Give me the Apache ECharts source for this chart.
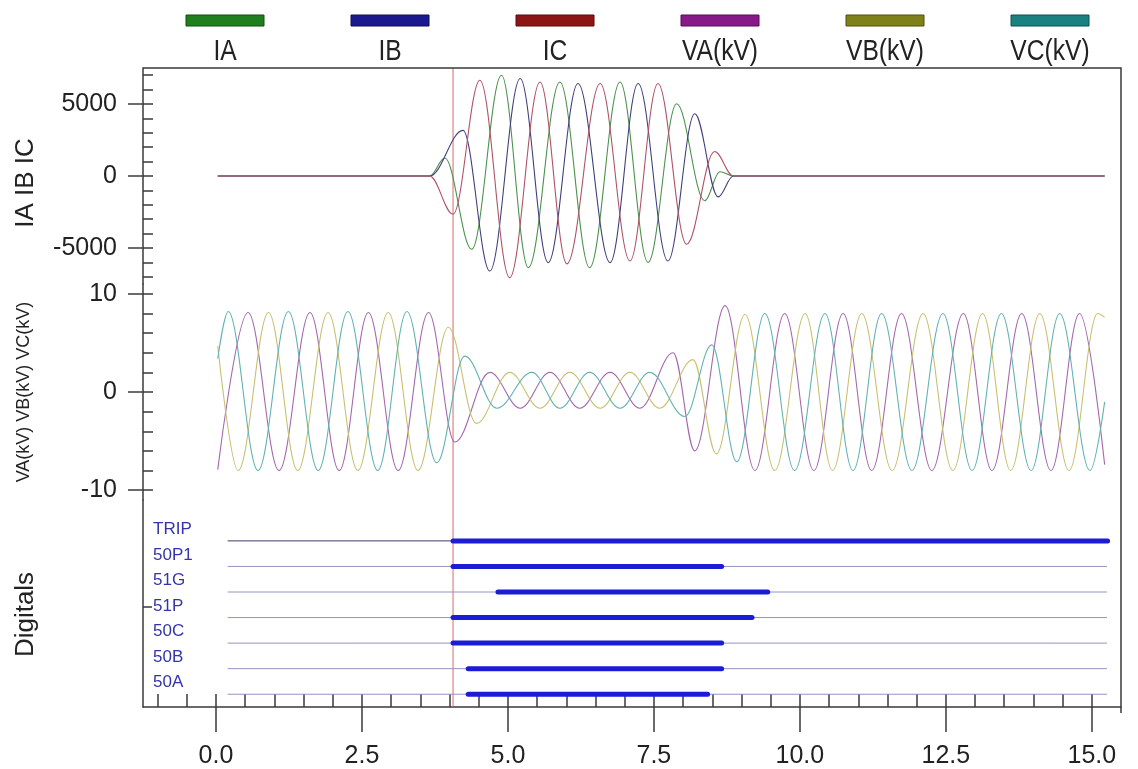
<!DOCTYPE html>
<html><head><meta charset="utf-8">
<script src="https://cdn.jsdelivr.net/npm/echarts@6/dist/echarts.min.js"></script>
<style>html,body{margin:0;padding:0;background:#fff;}#c{width:1138px;height:769px;}</style>
</head><body><div id="c"></div>
<script>
// ---------------- data ----------------
const xTickLabels = [0, 2.5, 5, 7.5, 10, 12.5, 15];
const currentNames = ['IA', 'IB', 'IC'];
const voltageNames = ['VA(kV)', 'VB(kV)', 'VC(kV)'];
const digitalNames = ['TRIP', '50P1', '51G', '51P', '50C', '50B', '50A'];
const currentTickLabels = [-5000, 0, 5000];
const voltageTickLabels = [-10, 0, 10];
const cursorTime = 4.06;

// currents: [time (cycles), amps] at start/end, zero departures and extremes
const IA = [[0.03,0],[3.66,0],[3.92,1250],[4.38,-5090],[4.89,7000],[5.35,-6370],[5.89,6530],[6.40,-6370],[6.92,6530],[7.40,-6000],[7.89,5020],[8.37,-1720],[8.63,300],[8.86,0],[15.22,0]];
const IB = [[0.03,0],[3.66,0],[4.23,3170],[4.69,-6600],[5.21,6770],[5.69,-6020],[6.20,6420],[6.75,-6020],[7.23,6420],[7.74,-5900],[8.20,4320],[8.60,-1450],[8.86,0],[15.22,0]];
const IC = [[0.03,0],[3.66,0],[4.06,-2650],[4.52,6650],[5.03,-7060],[5.55,6530],[6.01,-6100],[6.58,6420],[7.09,-5900],[7.57,6420],[8.06,-4740],[8.54,1700],[8.86,0],[15.22,0]];

// voltages: [time, kV] at start/end and extremes
const VA = [[0.03,-7.9],[0.55,8.1],[1.08,-8.0],[1.61,8.1],[2.11,-8.0],[2.61,8.1],[3.12,-8.0],[3.64,8.1],[4.09,-5.1],[4.69,2.0],[5.21,-1.65],[5.72,2.0],[6.23,-1.65],[6.75,2.0],[7.26,-1.65],[7.83,4.0],[8.20,-6.0],[8.72,8.8],[9.23,-8.0],[9.74,8.0],[10.24,-8.0],[10.74,8.0],[11.23,-8.0],[11.74,8.0],[12.26,-8.0],[12.80,8.0],[13.29,-8.0],[13.80,8.0],[14.30,-8.0],[14.79,8.0],[15.22,-7.4]];
const VB = [[0.03,4.7],[0.38,-8.0],[0.90,8.1],[1.40,-8.0],[1.92,8.1],[2.43,-8.0],[2.95,8.1],[3.46,-8.0],[3.98,6.6],[4.46,-3.2],[5.03,2.0],[5.55,-1.65],[6.06,2.0],[6.58,-1.65],[7.09,2.0],[7.60,-1.65],[8.17,3.3],[8.57,-6.3],[9.06,7.9],[9.57,-8.0],[10.09,8.0],[10.56,-8.0],[11.06,8.0],[11.58,-8.0],[12.11,8.0],[12.62,-8.0],[13.13,8.0],[13.61,-8.0],[14.11,8.0],[14.61,-8.0],[15.10,8.0],[15.22,7.6]];
const VC = [[0.03,3.4],[0.21,8.2],[0.72,-8.0],[1.24,8.2],[1.75,-8.0],[2.26,8.2],[2.77,-8.0],[3.27,8.2],[3.78,-7.2],[4.26,3.65],[4.81,-1.65],[5.41,2.0],[5.89,-1.65],[6.40,2.0],[6.92,-1.65],[7.43,2.0],[8.03,-2.5],[8.49,4.8],[8.92,-7.1],[9.40,8.0],[9.91,-8.0],[10.43,8.0],[10.91,-8.0],[11.40,8.0],[11.92,-8.0],[12.45,8.0],[12.95,-8.0],[13.45,8.0],[13.96,-8.0],[14.45,8.0],[14.97,-8.0],[15.22,-1.0]];

// digital channels: trace extent and "on" interval per channel (TRIP ... 50A)
const digitalTrace = [0.20, 15.26];
const digitalOn  = [4.06, 4.06, 4.83, 4.06, 4.06, 4.32, 4.32];
const digitalOff = [15.27, 8.66, 9.45, 9.18, 8.66, 8.66, 8.42];

// ---------------- styling / layout ----------------
const FONT = '"Liberation Sans", Arial, sans-serif';
const AX = '#3a3a3a';
const TXT = '#222';
const legendColors = ['#1f7f1f', '#1a1a8e', '#8c1616', '#861a86', '#80801a', '#1a8080'];
const legendBorders = ['#0e4e0e', '#0c0c5a', '#5a0a0a', '#560a56', '#50500a', '#0a5050'];
const lineColors = ['#4c924c', '#40407e', '#b05266', '#a468ac', '#c8c070', '#62b2b2'];
const plotLeft = 143, plotRight = 1121, plotTop = 68, plotBottom = 713;
const xMin = -1.25, xMax = 15.5;
const xMinor = []; for (let k = -2; k <= 30; k++) xMinor.push(k * 0.5);
const curMinor = []; for (let k = -7; k <= 7; k++) curMinor.push(k * 1000);
const volMinor = []; for (let k = -5; k <= 5; k++) volMinor.push(k * 2);
const digVals = digitalNames.map((n, i) => digitalNames.length - i);
const yRanges = [[-7500, 7500], [-11, 11], [0.5, 8.6]];

const chart = echarts.init(document.getElementById('c'));
const rightPad = 1138 - plotRight;
const grids = [
  {left: plotLeft, right: rightPad, top: 68, height: 216},
  {left: plotLeft, right: rightPad, top: 284, height: 216},
  {left: plotLeft, right: rightPad, top: 500, height: 213}
];
const tickStyle = {color: AX, width: 1.5};
const lblStyle = {fontSize: 25, color: TXT, fontFamily: FONT};
const plain = v => String(Math.round(v * 100) / 100);
const xAxes = [
  {gridIndex: 0, type: 'value', min: xMin, max: xMax, show: false},
  {gridIndex: 1, type: 'value', min: xMin, max: xMax, show: false},
  {gridIndex: 2, type: 'value', min: xMin, max: xMax, position: 'bottom',
   axisLine: {show: true, onZero: false, lineStyle: {color: AX, width: 1.5}},
   axisTick: {show: true, inside: true, length: 13, customValues: xMinor, lineStyle: tickStyle},
   axisLabel: Object.assign({show: true, customValues: xTickLabels, formatter: v => Number(v).toFixed(1), margin: 37}, lblStyle),
   splitLine: {show: false}},
  {gridIndex: 2, type: 'value', min: xMin, max: xMax, position: 'bottom',
   axisLine: {show: false, onZero: false},
   axisTick: {show: true, inside: false, length: 25, customValues: xTickLabels, lineStyle: tickStyle},
   axisLabel: {show: false}, splitLine: {show: false}}
];
function yMain(grid, minors, majors, name, nameGap, nameSize, namePad) {
  return {gridIndex: grid, type: 'value', min: yRanges[grid][0], max: yRanges[grid][1], position: 'left',
    name: name, nameLocation: 'middle', nameGap: nameGap, nameRotate: 90,
    nameTextStyle: {fontSize: nameSize, color: TXT, fontFamily: FONT, padding: namePad},
    axisLine: {show: true, onZero: false, lineStyle: {color: AX, width: 1.5}},
    axisTick: {show: true, inside: true, length: 10, customValues: minors, lineStyle: tickStyle},
    axisLabel: Object.assign({show: true, customValues: majors, margin: 26, formatter: plain}, lblStyle),
    splitLine: {show: false}};
}
function yOut(grid, majors) {
  return {gridIndex: grid, type: 'value', min: yRanges[grid][0], max: yRanges[grid][1], position: 'left',
    axisLine: {show: false, onZero: false},
    axisTick: {show: true, inside: false, length: 15, customValues: majors, lineStyle: tickStyle},
    axisLabel: {show: false}, splitLine: {show: false}};
}
const yAxes = [
  yMain(0, curMinor, currentTickLabels, 'IA IB IC', 104, 26, [0, 14, 0, 0]),
  yOut(0, currentTickLabels),
  yMain(1, volMinor, voltageTickLabels, 'VA(kV) VB(kV) VC(kV)', 110, 18, [0, 0, 0, 0]),
  yOut(1, voltageTickLabels),
  {gridIndex: 2, type: 'value', min: yRanges[2][0], max: yRanges[2][1], position: 'left',
   name: 'Digitals', nameLocation: 'middle', nameGap: 104, nameRotate: 90,
   nameTextStyle: {fontSize: 26, color: TXT, fontFamily: FONT, padding: [0, 22, 0, 0]},
   axisLine: {show: true, onZero: false, lineStyle: {color: AX, width: 1.5}},
   axisTick: {show: true, inside: true, length: 9, customValues: [4.42], lineStyle: tickStyle},
   axisLabel: {show: true, inside: true, customValues: digVals, margin: 10,
     formatter: v => digitalNames[digitalNames.length - Math.round(v)],
     verticalAlign: 'bottom', padding: [0, 0, 3, 0], fontSize: 17, color: '#3434a8', fontFamily: FONT},
   splitLine: {show: false}}
];

const series = [];
[IA, IB, IC].forEach((d, i) => series.push({
  name: currentNames[i], type: 'line', xAxisIndex: 0, yAxisIndex: 0, data: d,
  showSymbol: false, smooth: 0.36, smoothMonotone: 'x', animation: false,
  lineStyle: {color: lineColors[i], width: 1.1}, itemStyle: {color: legendColors[i]}
}));
[VA, VB, VC].forEach((d, i) => series.push({
  name: voltageNames[i], type: 'line', xAxisIndex: 1, yAxisIndex: 2, data: d,
  showSymbol: false, smooth: 0.36, smoothMonotone: 'x', animation: false,
  lineStyle: {color: lineColors[3 + i], width: 1.1}, itemStyle: {color: legendColors[3 + i]}
}));
digitalNames.forEach((n, i) => {
  const v = digVals[i];
  series.push({name: n + ' trace', type: 'line', xAxisIndex: 2, yAxisIndex: 4,
    data: [[digitalTrace[0], v], [digitalTrace[1], v]], showSymbol: false, animation: false,
    lineStyle: {color: i === 0 ? '#3c3c6c' : '#9494c4', width: 1}});
  series.push({name: n, type: 'line', xAxisIndex: 2, yAxisIndex: 4, z: 3,
    data: [[digitalOn[i], v], [digitalOff[i], v]], showSymbol: false, animation: false,
    lineStyle: {color: '#1c1cd6', width: 5, cap: 'round'}});
});
// cursor line at the trip time, in each of the three panels
[[0, 0], [1, 2], [2, 4]].forEach(([xi, yi], g) => series.push({
  name: 'cursor' + g, type: 'line', xAxisIndex: xi, yAxisIndex: yi, z: 1,
  data: [[cursorTime, yRanges[g][0]], [cursorTime, yRanges[g][1]]],
  showSymbol: false, animation: false, silent: true,
  lineStyle: {color: '#d86a6a', width: 1}
}));

const legendNames = currentNames.concat(voltageNames);
const graphic = [{type: 'polyline', z: 50, silent: true,
  shape: {points: [[plotLeft, plotTop], [plotRight, plotTop], [plotRight, plotBottom]]},
  style: {fill: null, stroke: AX, lineWidth: 1.5}}];
legendNames.forEach((n, i) => {
  graphic.push({type: 'group', x: 225 + 165 * i, y: 0, silent: true, children: [
    {type: 'rect', shape: {x: -39, y: 15, width: 78, height: 11},
     style: {fill: legendColors[i], stroke: legendBorders[i], lineWidth: 1}},
    {type: 'text', x: 0, y: 52, scaleX: 0.82,
     style: {text: n, font: '30px "Liberation Sans", Arial, sans-serif', fill: TXT,
       textAlign: 'center', textVerticalAlign: 'middle', align: 'center', verticalAlign: 'middle'}}
  ]});
});

chart.setOption({
  animation: false,
  backgroundColor: '#ffffff',
  grid: grids, xAxis: xAxes, yAxis: yAxes, series: series, graphic: graphic
});
</script></body></html>
